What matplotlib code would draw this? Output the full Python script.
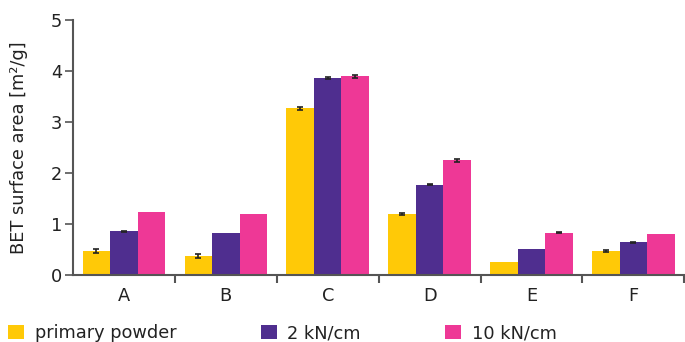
import matplotlib.pyplot as plt
import numpy as np

# data
categorias = ["A", "B", "C", "D", "E", "F"]
series = ["primary powder", "2 kN/cm", "10 kN/cm"]
primary = [0.47, 0.38, 3.27, 1.20, 0.26, 0.47]
kn2 = [0.86, 0.82, 3.87, 1.77, 0.51, 0.64]
kn10 = [1.23, 1.19, 3.90, 2.25, 0.83, 0.80]
err_primary = [0.03, 0.04, 0.03, 0.02, 0.0, 0.01]
err_kn2 = [0.01, 0.0, 0.02, 0.01, 0.0, 0.01]
err_kn10 = [0.0, 0.0, 0.03, 0.03, 0.01, 0.0]
cores = ["#FFC907", "#4F2E8F", "#EE3896"]

plt.rcParams['font.family'] = ['DejaVu Sans']
fs = 12.8
eixo = "#555555"

fig = plt.figure(figsize=(6.85, 3.42), dpi=100)
ax = fig.add_axes([0.1066, 0.196, 0.8924, 0.7455])

x = np.arange(len(categorias))
w = 0.27
valores = [primary, kn2, kn10]
erros = [err_primary, err_kn2, err_kn10]
for i, (v, e, c, s) in enumerate(zip(valores, erros, cores, series)):
    pos = x + (i - 1) * w
    ax.bar(pos, v, w, color=c, label=s, zorder=2)
    e = np.array(e)
    m = e > 0
    ax.errorbar(pos[m], np.array(v)[m], yerr=e[m], fmt='none', ecolor='#222222',
                elinewidth=1.2, capsize=2, capthick=1.2, zorder=3)

ax.set_xlim(-0.5, 5.5)
ax.set_ylim(0, 5)
ax.set_yticks(range(6))
ax.set_xticks(x)
ax.set_xticklabels(categorias)
ax.set_xticks(np.arange(0.5, 6, 1), minor=True)
ax.tick_params(axis='x', which='major', length=0, labelsize=fs, pad=9, colors='#222222')
ax.tick_params(axis='x', which='minor', length=6, width=1.5, color=eixo, direction='out')
ax.tick_params(axis='y', length=6, width=1.2, color=eixo, labelsize=fs, labelcolor='#222222', pad=2)
for sp in ['top', 'right']:
    ax.spines[sp].set_visible(False)
for sp in ['left', 'bottom']:
    ax.spines[sp].set_color(eixo)
    ax.spines[sp].set_linewidth(1.5)
    ax.spines[sp].set_zorder(4)
ax.set_ylabel('BET surface area [m²/g]', fontsize=fs, color='#222222', labelpad=16)

fig.legend(loc='center left', bbox_to_anchor=(8 / 685, 0.026), ncol=3, frameon=False,
           fontsize=fs, handlelength=0.9, handleheight=0.9, handletextpad=0.6,
           columnspacing=4.75, borderaxespad=0, borderpad=0, labelcolor='#222222')

fig.savefig('out.png', dpi=100)
